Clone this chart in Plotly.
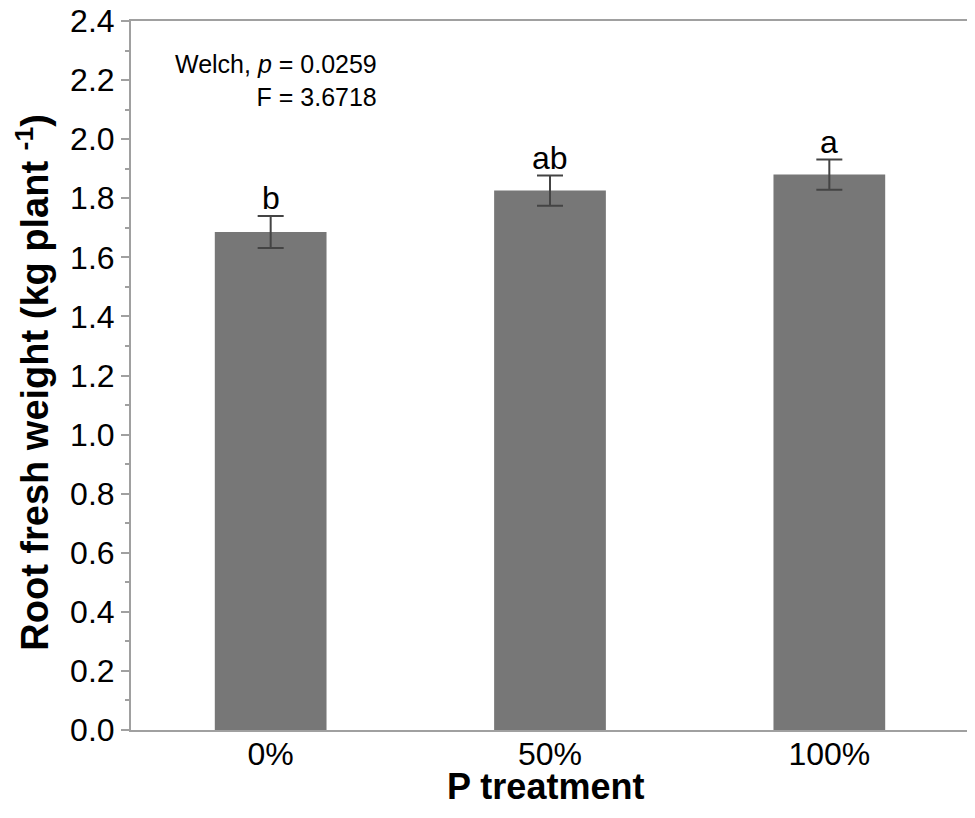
import plotly.graph_objects as go

treatments = ["0%", "50%", "100%"]
root_weight = [1.686, 1.826, 1.880]
root_err = [0.054, 0.051, 0.051]
letters = ["b", "ab", "a"]

FONT = "Liberation Sans, Arial, sans-serif"
AXIS_GREY = "#a0a0a0"

fig = go.Figure()
fig.add_trace(go.Bar(
    x=treatments, y=root_weight,
    marker=dict(color="#777777", line=dict(width=0)),
    width=0.4,
    error_y=dict(type="data", array=root_err, color="#444444", thickness=2, width=13),
))

# significance letters above the error bars
for t, v, e, l in zip(treatments, root_weight, root_err, letters):
    fig.add_annotation(x=t, y=v + e, text=l, showarrow=False, yanchor="bottom",
                       yshift=-2, font=dict(family=FONT, size=32, color="black"))

fig.add_annotation(xref="paper", yref="paper", x=0.296, y=0.962,
                   xanchor="right", yanchor="top", align="right", showarrow=False,
                   text="Welch, <i>p</i> = 0.0259<br>F = 3.6718",
                   font=dict(family=FONT, size=25, color="black"))

# axis titles placed by hand
fig.add_annotation(xref="paper", yref="paper", x=-0.118, y=0.49, textangle=-90,
                   xanchor="center", yanchor="middle", showarrow=False,
                   text="<b>Root fresh weight (kg plant <sup>-1</sup>)</b>",
                   font=dict(family=FONT, size=38, color="black"))
fig.add_annotation(xref="paper", yref="paper", x=0.495, y=-0.079,
                   xanchor="center", yanchor="middle", showarrow=False,
                   text="<b>P treatment</b>",
                   font=dict(family=FONT, size=36, color="black"))

# page body has an 8px margin, so the figure is sized/offset to compensate
fig.update_layout(
    width=967, height=810,
    margin=dict(l=123, r=6, t=13, b=88),
    plot_bgcolor="white", paper_bgcolor="white",
    showlegend=False,
    font=dict(family=FONT, color="black"),
    xaxis=dict(
        showline=True, linecolor=AXIS_GREY, linewidth=2, mirror=True,
        ticks="", tickfont=dict(size=32), automargin=False, ticklabelstandoff=-5,
    ),
    yaxis=dict(
        range=[0, 2.4 + 1e-9], dtick=0.2, tick0=0, tickformat=".1f",
        showline=True, linecolor=AXIS_GREY, linewidth=2, mirror=True,
        showgrid=False, zeroline=False, automargin=False,
        ticks="outside", ticklen=8, tickwidth=2, tickcolor=AXIS_GREY,
        tickfont=dict(size=32), ticklabeloverflow="allow",
        minor=dict(dtick=0.1, ticks="outside", ticklen=4, tickwidth=2, tickcolor=AXIS_GREY),
    ),
)

fig.write_html("out.html")
